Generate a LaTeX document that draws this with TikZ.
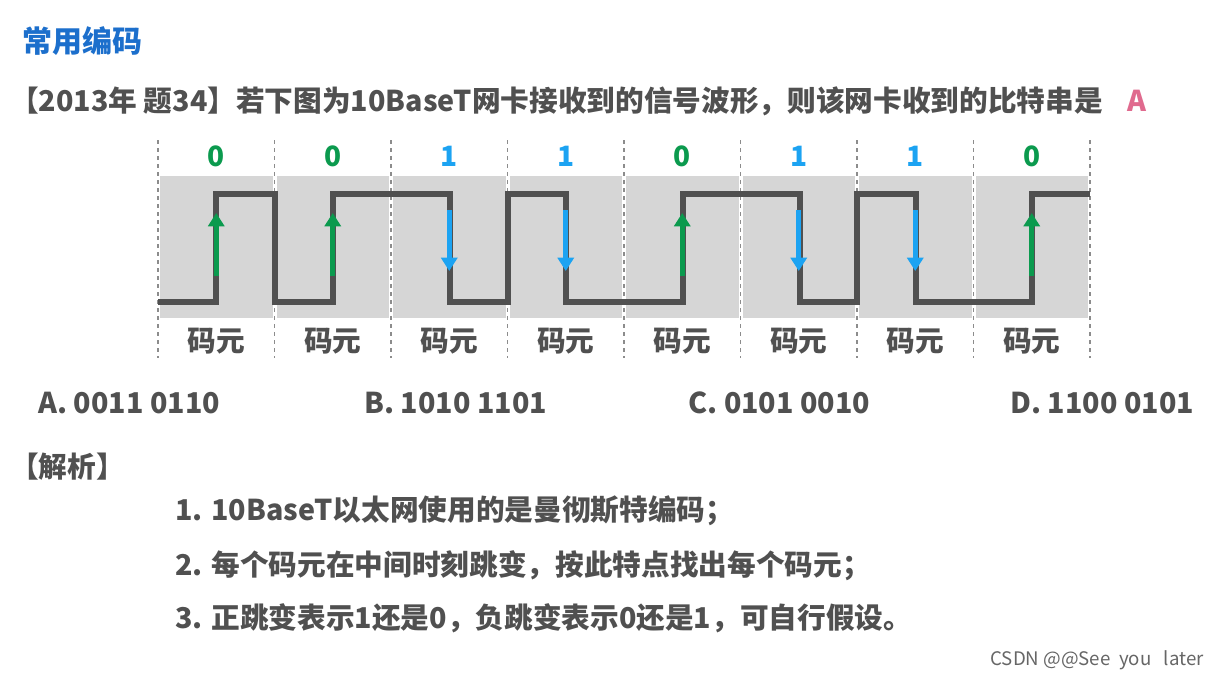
\documentclass[tikz,border=0pt]{standalone}
\usepackage{fontspec}
\usetikzlibrary{arrows.meta}
\setmainfont{Noto Sans CJK SC}
\definecolor{tgray}{HTML}{505050}
\definecolor{tblue}{HTML}{1C6FCC}
\definecolor{agreen}{HTML}{0B9A4E}
\definecolor{ablue}{HTML}{1CA3F2}
\definecolor{apink}{HTML}{E06A8E}
\begin{document}
\begin{tikzpicture}[x=0.75pt,y=-0.75pt,
  txt/.style={inner sep=0pt,anchor=west,text=tgray,font=\bfseries\fontsize{21.5}{24}\selectfont},
  bit/.style={inner sep=0pt,font=\bfseries\fontsize{21}{23}\selectfont},
  cell/.style={fill=black!16,draw=none},
  divl/.style={black!45,line width=0.9pt,dash pattern=on 3pt off 3pt},
  wave/.style={tgray,line width=4.5pt},
  uparr/.style={draw=agreen,line width=4pt,-{Triangle[length=10pt,width=12pt]}},
  dnarr/.style={draw=ablue,line width=4pt,-{Triangle[length=10pt,width=12pt]}}]
\useasboundingbox (0,0) rectangle (1218,679);
\fill[white] (0,0) rectangle (1218,679);
\node[txt,text=tblue,font=\bfseries\fontsize{22.5}{25}\selectfont] (title) at (22,41) {常用编码};
\node[txt] (q) at (10,101) {【2013年 题34】若下图为10BaseT网卡接收到的信号波形，则该网卡收到的比特串是};
\node[txt,text=apink] (ans) at (1127,101) {A};
\foreach \i in {0,...,7} {
  \fill[cell] ({158+116.5*\i+2},176) rectangle ({158+116.5*(\i+1)-2},318);
}
\foreach \i in {0,...,8} {
  \draw[divl] ({158+116.5*\i},140) -- ({158+116.5*\i},358);
}
\draw[wave,line join=miter] (158,302) -- ++(58.25,0) |- (275,194) -- (275,302) -- (333.25,302) |- (449.75,194) -- (449.75,302) -- (508,302) |- (566.25,194) -- (566.25,302) -- (683,302) |- (799.5,194) -- (799.5,302) -- (857,302) |- (915.75,194) -- (915.75,302) -- (1032,302) |- (1090,194);
\foreach \i/\b in {0/0,1/0,2/1,3/1,4/0,5/1,6/1,7/0} {
  \pgfmathsetmacro\mx{158+116.5*\i+58.25}
  \ifnum\b=0
    \node[bit,text=agreen] (b\i) at (\mx,156) {0};
    \draw[uparr] (\mx,276) -- (\mx,213);
  \else
    \node[bit,text=ablue] (b\i) at (\mx,156) {1};
    \draw[dnarr] (\mx,210) -- (\mx,271);
  \fi
  \node[txt,anchor=center] (m\i) at (\mx,341) {码元};
}
\node[txt] (oa) at (38,403) {A. 0011 0110};
\node[txt] (ob) at (364,403) {B. 1010 1101};
\node[txt] (oc) at (688,403) {C. 0101 0010};
\node[txt] (od) at (1010,403) {D. 1100 0101};
\node[txt] (jx) at (10,467) {【解析】};
\node[txt] (l1) at (175,511) {1. 10BaseT以太网使用的是曼彻斯特编码；};
\node[txt] (l2) at (175,566) {2. 每个码元在中间时刻跳变，按此特点找出每个码元；};
\node[txt] (l3) at (175,618) {3. 正跳变表示1还是0，负跳变表示0还是1，可自行假设。};
\node[inner sep=0pt,anchor=east,text=black!60,font=\fontsize{14}{16}\selectfont] (wm) at (1204,660) {CSDN @@See\ \ you\ \ \ later};
\end{tikzpicture}
\end{document}
